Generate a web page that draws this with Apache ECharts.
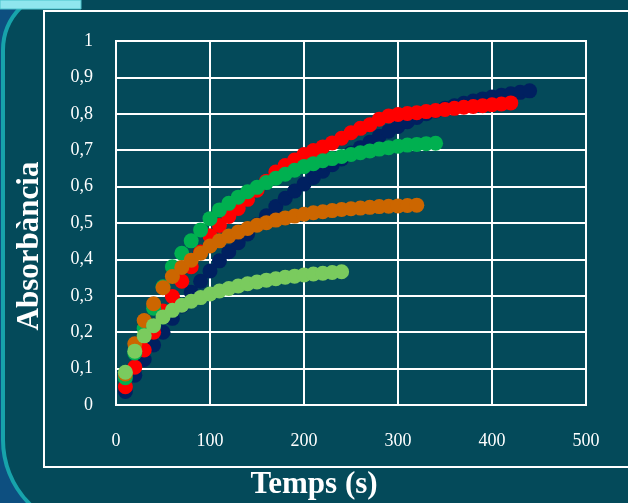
<!DOCTYPE html>
<html>
<head>
<meta charset="utf-8">
<script src="https://cdn.jsdelivr.net/npm/echarts@6/dist/echarts.min.js"></script>
<style>
html,body{margin:0;padding:0;background:#0d4f80;}
#chart{width:628px;height:503px;}
</style>
</head>
<body>
<div id="chart"></div>
<script>
// Time points (s)
const times = [10,20,30,40,50,60,70,80,90,100,110,120,130,140,150,160,170,180,190,200,
  210,220,230,240,250,260,270,280,290,300,310,320,330,340,350,360,370,380,390,400,410,420,430,440];

const navyVals = [0.037,0.082,0.125,0.165,0.200,0.238,0.272,0.310,0.340,0.368,0.396,0.421,0.446,0.470,0.495,0.520,0.545,0.568,0.588,0.607,
  0.625,0.642,0.660,0.676,0.692,0.707,0.722,0.738,0.752,0.765,0.778,0.790,0.800,0.808,0.815,0.822,0.829,0.835,0.841,0.846,0.851,0.855,0.859,0.863];
const redVals = [0.050,0.104,0.151,0.200,0.258,0.298,0.340,0.380,0.420,0.465,0.493,0.518,0.540,0.565,0.590,0.615,0.640,0.658,0.673,0.688,
  0.699,0.709,0.720,0.733,0.748,0.760,0.770,0.785,0.794,0.798,0.801,0.803,0.806,0.809,0.812,0.815,0.818,0.820,0.822,0.825,0.827,0.830];
const greenVals = [0.075,0.143,0.210,0.266,0.325,0.380,0.417,0.451,0.481,0.512,0.536,0.554,0.571,0.586,0.598,0.611,0.623,0.634,0.645,0.655,
  0.663,0.671,0.677,0.683,0.688,0.693,0.698,0.703,0.707,0.711,0.714,0.716,0.718,0.719];
const orangeVals = [0.085,0.168,0.232,0.278,0.322,0.353,0.378,0.398,0.417,0.437,0.451,0.464,0.475,0.485,0.494,0.501,0.508,0.514,0.519,0.524,
  0.528,0.531,0.534,0.537,0.539,0.541,0.543,0.545,0.546,0.547,0.548,0.549];
const lightGreenVals = [0.090,0.148,0.190,0.218,0.242,0.260,0.274,0.285,0.295,0.305,0.313,0.320,0.327,0.333,0.338,0.343,0.347,0.351,0.354,0.357,
  0.360,0.362,0.364,0.366];

const xTicks = [0,100,200,300,400,500];
const yTicks = [0,0.1,0.2,0.3,0.4,0.5,0.6,0.7,0.8,0.9,1];

function pairs(vals){ return vals.map((v,i)=>[times[i], v]); }

const seriesDefs = [
  {name:'S1', vals:navyVals, color:'#002060'},
  {name:'S2', vals:redVals, color:'#ff0000'},
  {name:'S3', vals:greenVals, color:'#00b050'},
  {name:'S4', vals:orangeVals, color:'#cc6600'},
  {name:'S5', vals:lightGreenVals, color:'#7acb5e'}
];

const chart = echarts.init(document.getElementById('chart'), null, {renderer:'canvas'});
const serif = '"Liberation Serif", "DejaVu Serif", serif';
chart.setOption({
  backgroundColor:'#0d4f80',
  animation:false,
  graphic:[
    {type:'rect', z:-10, shape:{x:3,y:-10,width:700,height:540,r:[60,0,0,90]},
     style:{fill:'#044a5a', stroke:'#17a3ab', lineWidth:4}},
    {type:'rect', z:-5, shape:{x:0,y:0,width:81,height:9},
     style:{fill:'#8fe6ee', stroke:'#4cc3cc', lineWidth:1}},
    {type:'rect', z:-5, shape:{x:44,y:11,width:620,height:456},
     style:{fill:null, stroke:'#ffffff', lineWidth:2}},
    {type:'text', left:'center', top:469, style:{text:'Temps (s)', fill:'#ffffff', font:'bold 31px '+serif}},
    {type:'text', x:30, y:246, rotation:Math.PI/2, style:{text:'Absorbància', fill:'#ffffff', font:'bold 31px '+serif, align:'center', verticalAlign:'middle'}}
  ],
  grid:{left:116, top:41, width:470, height:364, show:true, borderColor:'#ffffff', borderWidth:2, containLabel:false},
  xAxis:{type:'value', min:0, max:500, interval:100,
    axisLine:{show:true, lineStyle:{color:'#ffffff', width:2}},
    axisTick:{show:false},
    splitLine:{show:true, lineStyle:{color:'#ffffff', width:2}},
    axisLabel:{color:'#ffffff', fontFamily:serif, fontSize:18, margin:27,
      customValues: xTicks}},
  yAxis:{type:'value', min:0, max:1, interval:0.1,
    axisLine:{show:true, lineStyle:{color:'#ffffff', width:2}},
    axisTick:{show:false},
    splitLine:{show:true, lineStyle:{color:'#ffffff', width:2}},
    axisLabel:{color:'#ffffff', fontFamily:serif, fontSize:18, margin:23,
      formatter:(v)=>String(Math.round(v*10)/10).replace('.',',')}},
  series: seriesDefs.map(s=>({type:'scatter', name:s.name, data:pairs(s.vals), symbol:'circle', symbolSize:15,
    itemStyle:{color:s.color, opacity:1}, emphasis:{disabled:true}}))
});
</script>
</body>
</html>
